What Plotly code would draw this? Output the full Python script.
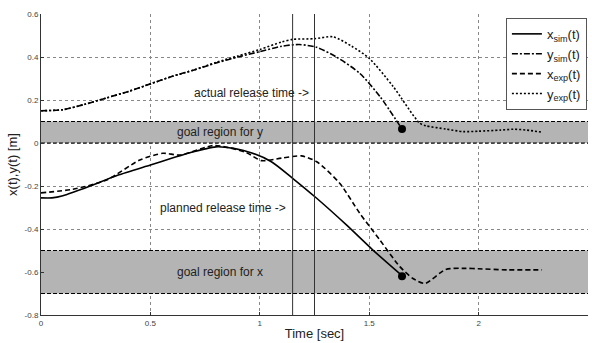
import plotly.graph_objects as go

# ---- data ----
t_xsim = [0.0, 0.05, 0.1, 0.224, 0.35, 0.5, 0.6, 0.68, 0.8, 0.88, 0.96, 1.053, 1.15, 1.26, 1.396, 1.517, 1.65]
v_xsim = [-0.255, -0.255, -0.245, -0.2, -0.15, -0.102, -0.07, -0.045, -0.018, -0.025, -0.045, -0.087, -0.164, -0.257, -0.381, -0.498, -0.617]

t_ysim = [0.0, 0.1, 0.2, 0.3, 0.4, 0.5, 0.6, 0.7, 0.8, 0.9, 1.0, 1.1, 1.18, 1.26, 1.35, 1.457, 1.55, 1.65]
v_ysim = [0.15, 0.155, 0.18, 0.21, 0.24, 0.275, 0.31, 0.34, 0.372, 0.40, 0.425, 0.45, 0.458, 0.445, 0.40, 0.324, 0.215, 0.065]

t_xexp = [0.0, 0.146, 0.3, 0.452, 0.557, 0.635, 0.786, 0.86, 0.94, 1.008, 1.1, 1.19, 1.26, 1.365, 1.457, 1.548, 1.64, 1.70, 1.755, 1.85, 1.94, 2.0, 2.13, 2.29]
v_xexp = [-0.232, -0.215, -0.172, -0.079, -0.048, -0.056, -0.012, -0.022, -0.045, -0.082, -0.07, -0.06, -0.087, -0.187, -0.327, -0.45, -0.575, -0.63, -0.653, -0.588, -0.583, -0.585, -0.59, -0.59]

t_yexp = [0.0, 0.1, 0.2, 0.3, 0.4, 0.5, 0.6, 0.7, 0.8, 0.9, 1.0, 1.1, 1.15, 1.25, 1.335, 1.42, 1.5, 1.61, 1.73, 1.76, 1.85, 1.93, 2.0, 2.1, 2.16, 2.22, 2.29]
v_yexp = [0.15, 0.155, 0.18, 0.21, 0.24, 0.275, 0.31, 0.34, 0.375, 0.405, 0.435, 0.47, 0.482, 0.485, 0.494, 0.45, 0.394, 0.262, 0.093, 0.08, 0.065, 0.053, 0.055, 0.06, 0.064, 0.06, 0.05]

release_times = [1.15, 1.25]
goal_y = [0.0, 0.1]
goal_x = [-0.7, -0.5]
end_t = [1.65, 1.65]
end_v = [0.065, -0.62]

x_ticks = [0, 0.5, 1, 1.5, 2, 2.5]
x_ticklabels = ["0", "0.5", "1", "1.5", "2", "2.5"]
y_ticks = [0.6, 0.4, 0.2, 0, -0.2, -0.4, -0.6, -0.8]
y_ticklabels = ["0.6", "0.4", "0.2", "0", "-0.2", "-0.4", "-0.6", "-0.8"]

FONT = "Liberation Sans, Arial, sans-serif"

fig = go.Figure()
lw = 1.6
sm = 0.7
fig.add_trace(go.Scatter(x=t_xsim, y=v_xsim, mode="lines", name="x<sub>sim</sub>(t)",
                         line=dict(color="black", width=lw, dash="solid", shape="spline", smoothing=sm)))
fig.add_trace(go.Scatter(x=t_ysim, y=v_ysim, mode="lines", name="y<sub>sim</sub>(t)",
                         line=dict(color="black", width=lw, dash="6px,2px,2px,2px", shape="spline", smoothing=sm)))
fig.add_trace(go.Scatter(x=t_xexp, y=v_xexp, mode="lines", name="x<sub>exp</sub>(t)",
                         line=dict(color="black", width=lw, dash="5px,3px", shape="spline", smoothing=sm)))
fig.add_trace(go.Scatter(x=t_yexp, y=v_yexp, mode="lines", name="y<sub>exp</sub>(t)",
                         line=dict(color="black", width=lw, dash="2px,2px", shape="spline", smoothing=sm)))
fig.add_trace(go.Scatter(x=end_t, y=end_v, mode="markers", showlegend=False,
                         marker=dict(color="black", size=8)))

shapes = []
for lo, hi in (goal_y, goal_x):
    shapes.append(dict(type="rect", xref="x", yref="y", x0=0, x1=2.5, y0=lo, y1=hi,
                       fillcolor="#b4b4b4", line=dict(width=0), layer="between"))
    for yy in (lo, hi):
        shapes.append(dict(type="line", xref="x", yref="y", x0=0, x1=2.5, y0=yy, y1=yy,
                           line=dict(color="black", width=1, dash="4px,2px"), layer="between"))
for rt in release_times:
    shapes.append(dict(type="line", xref="x", yref="y", x0=rt, x1=rt, y0=-0.8, y1=0.6,
                       line=dict(color="#333333", width=1), layer="above"))

ann_font = dict(family=FONT, size=12, color="#222222")
annotations = [
    dict(x=0.96, y=0.233, text="actual release time ->", showarrow=False, font=ann_font),
    dict(x=0.82, y=0.05, text="goal region for y", showarrow=False, font=ann_font),
    dict(x=0.83, y=-0.30, text="planned release time ->", showarrow=False, font=ann_font),
    dict(x=0.82, y=-0.60, text="goal region for x", showarrow=False, font=ann_font),
]

fig.update_layout(
    width=592, height=343,
    margin=dict(l=41, r=4, t=14, b=28),
    paper_bgcolor="white", plot_bgcolor="white",
    font=dict(family=FONT, color="#222222"),
    shapes=shapes, annotations=annotations,
    legend=dict(x=0.998, y=0.987, xanchor="right", yanchor="top",
                bgcolor="white", bordercolor="#555555", borderwidth=1,
                font=dict(family=FONT, size=13, color="#222222"),
                tracegroupgap=0, itemwidth=30),
    xaxis=dict(range=[0, 2.5], tickvals=x_ticks, ticktext=x_ticklabels,
               showgrid=True, gridcolor="#888888", griddash="dot", gridwidth=1,
               zeroline=False, showline=True, linecolor="#333333", linewidth=1,
               ticks="inside", ticklen=3, tickcolor="#333333",
               tickfont=dict(family=FONT, size=8, color="#444444"),
               title=dict(text="Time [sec]", font=dict(family=FONT, size=13, color="#222222"), standoff=2)),
    yaxis=dict(range=[-0.8, 0.6], tickvals=y_ticks, ticktext=y_ticklabels,
               showgrid=True, gridcolor="#888888", griddash="dot", gridwidth=1,
               zeroline=False, showline=True, linecolor="#333333", linewidth=1,
               ticks="inside", ticklen=3, tickcolor="#333333",
               tickfont=dict(family=FONT, size=8, color="#444444"),
               title=dict(text="x(t),y(t) [m]", font=dict(family=FONT, size=13, color="#222222"), standoff=4)),
)

fig.write_html("out.html")
